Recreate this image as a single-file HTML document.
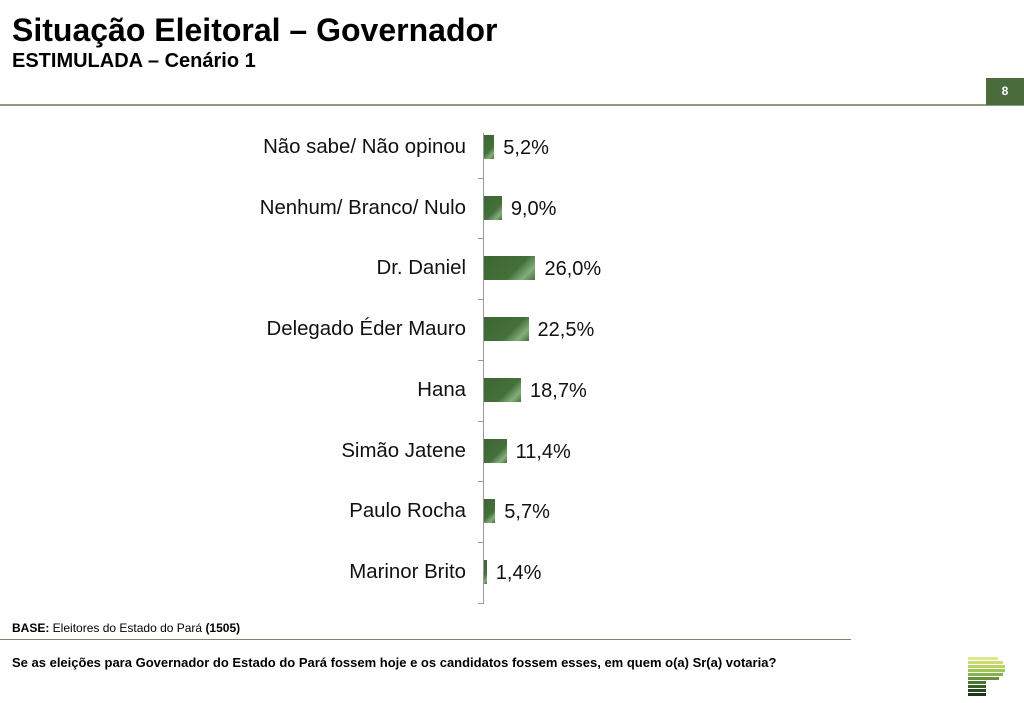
<!DOCTYPE html>
<html><head><meta charset="utf-8"><style>
body{margin:0;width:1024px;height:703px;background:#fff;position:relative;overflow:hidden;font-family:"Liberation Sans",sans-serif;color:#000}
.a{position:absolute}
.lab{position:absolute;right:558px;font-size:20.4px;white-space:nowrap;color:#111}
.bar{position:absolute;left:484px;height:24px;background:linear-gradient(135deg,#3c6632 0%,#44703a 60%,#86ad7d 82%,#44703a 100%)}
.val{position:absolute;font-size:20px;color:#111}
</style></head><body>
<div class="a" style="left:12px;top:12px;font-size:32px;font-weight:bold">Situação Eleitoral – Governador</div>
<div class="a" style="left:12px;top:50px;font-size:20px;font-weight:bold">ESTIMULADA – Cenário 1</div>
<div class="a" style="left:0;top:104px;width:1024px;height:2px;background:#8c9a7e"></div>
<div class="a" style="left:986px;top:78px;width:38px;height:27px;background:#4a6b3c;color:#fff;font-size:12px;font-weight:bold;text-align:center;line-height:27px">8</div>
<div class="a" style="left:483px;top:133px;width:1px;height:471px;background:#999"></div>
<div id="c"></div>
<script>
var d=[["Não sabe/ Não opinou",5.2,"5,2%"],["Nenhum/ Branco/ Nulo",9.0,"9,0%"],["Dr. Daniel",26.0,"26,0%"],["Delegado Éder Mauro",22.5,"22,5%"],["Hana",18.7,"18,7%"],["Simão Jatene",11.4,"11,4%"],["Paulo Rocha",5.7,"5,7%"],["Marinor Brito",1.4,"1,4%"]];
var h="";
for(var i=0;i<d.length;i++){var y=147+i*60.7;var w=Math.max(2,d[i][1]*1.98);
h+='<div class="lab" style="top:'+(y-11)+'px">'+d[i][0]+'</div>';
h+='<div class="bar" style="top:'+(y-12)+'px;width:'+w+'px"></div>';
h+='<div class="val" style="top:'+(y-10)+'px;left:'+(484+w+9)+'px">'+d[i][2]+'</div>';
if(i>0)h+='<div class="a" style="left:478px;top:'+(y-30)+'px;width:5px;height:1px;background:#999"></div>';}
h+='<div class="a" style="left:478px;top:603px;width:5px;height:1px;background:#999"></div>';
document.getElementById("c").innerHTML=h;
</script>
<div class="a" style="left:12px;top:621px;font-size:12px"><b>BASE:</b> Eleitores do Estado do Pará <b>(1505)</b></div>
<div class="a" style="left:0;top:639px;width:851px;height:1px;background:#7d8a6e"></div>
<div class="a" style="left:12px;top:655px;font-size:13px;font-weight:bold">Se as eleições para Governador do Estado do Pará fossem hoje e os candidatos fossem esses, em quem o(a) Sr(a) votaria?</div>
<div class="a" style="left:968px;top:657px;width:30px;height:3px;background:#dde890"></div>
<div class="a" style="left:968px;top:661px;width:35px;height:3px;background:#cbdc70"></div>
<div class="a" style="left:968px;top:665px;width:37px;height:3px;background:#b8d25f"></div>
<div class="a" style="left:968px;top:669px;width:37px;height:3px;background:#a0c654"></div>
<div class="a" style="left:968px;top:673px;width:35px;height:3px;background:#86b348"></div>
<div class="a" style="left:968px;top:677px;width:31px;height:3px;background:#66923e"></div>
<div class="a" style="left:968px;top:681px;width:18px;height:3px;background:#4a7535"></div>
<div class="a" style="left:968px;top:685px;width:18px;height:3px;background:#365e2a"></div>
<div class="a" style="left:968px;top:689px;width:18px;height:3px;background:#254a20"></div>
<div class="a" style="left:968px;top:693px;width:18px;height:3px;background:#183616"></div>
</body></html>
